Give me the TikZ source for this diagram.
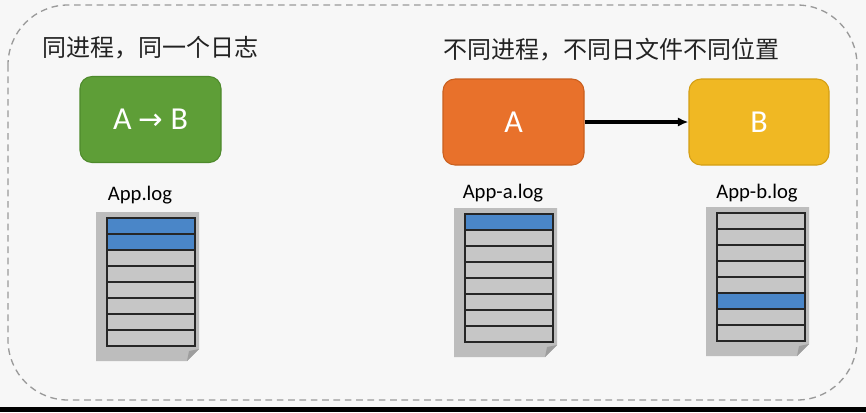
\documentclass[tikz,border=0pt]{standalone}
\usepackage{fontspec}
\setmainfont{Carlito}
\newfontfamily\cjk{Noto Sans CJK SC}
\newfontfamily\dvs{DejaVu Sans}
\usetikzlibrary{arrows.meta}
\definecolor{bg}{HTML}{F7F7F7}
\definecolor{dashgray}{HTML}{9A9A9A}
\definecolor{greenbox}{HTML}{5E9E37}
\definecolor{greenedge}{HTML}{4E8A2C}
\definecolor{orangebox}{HTML}{E8712B}
\definecolor{orangeedge}{HTML}{C9601F}
\definecolor{yellowbox}{HTML}{F0B823}
\definecolor{yellowedge}{HTML}{D49E14}
\definecolor{pagegray}{HTML}{BDBDBD}
\definecolor{folddark}{HTML}{9E9E9E}
\definecolor{rowgray}{HTML}{C6C6C6}
\definecolor{rowblue}{HTML}{4A86C8}
\definecolor{titletext}{HTML}{222222}
\tikzset{
  procbox/.style={rounded corners=9pt, minimum width=#1, minimum height=64.5pt, inner sep=0pt, text=white, font=\fontsize{24}{28}\selectfont, line width=0.8pt},
  titletxt/.style={anchor=west, inner sep=0pt, text=titletext, font=\cjk\fontsize{18}{22}\selectfont},
  loglabel/.style={inner sep=0pt, text=black, font=\fontsize{15.5}{18}\selectfont},
  rowline/.style={draw=black!85, line width=1.1pt},
  flowarrow/.style={draw=black, line width=2.6pt, -{Latex[length=8pt,width=7pt]}},
}
\newcommand{\logdoc}[3]{%
  \fill[pagegray] (#1-11,#2-6) -- (#1+92,#2-6) -- (#1+92,#2+131) -- (#1+80,#2+143) -- (#1-11,#2+143) -- cycle;
  \fill[folddark] (#1+92,#2+131) -- (#1+80,#2+143) -- (#1+82,#2+133) -- cycle;
  \foreach \i in {0,...,7} \fill[rowgray] (#1,#2+\i*16) rectangle ++(88,16);
  \foreach \i in {#3} \fill[rowblue] (#1,#2+\i*16) rectangle ++(88,16);
  \foreach \i in {0,...,7} \draw[rowline] (#1,#2+\i*16) rectangle ++(88,16);
}
\begin{document}
\begin{tikzpicture}[x=0.75pt,y=-0.75pt]
\useasboundingbox (0,0) rectangle (866,412);
\fill[bg] (0,0) rectangle (866,412);
\fill[black] (0,407) rectangle (866,412);
\draw[dashgray, line width=1pt, dash pattern=on 5pt off 3.5pt, rounded corners=45pt] (8,5) rectangle (857,400);

\node[titletxt] (t1) at (42,48) {同进程，同一个日志};
\node[titletxt] (t2) at (443,50) {不同进程，不同日文件不同位置};

\node[procbox=105.75pt, fill=greenbox, draw=greenedge] (ab) at (150.5,119.5) {A {\dvs\fontsize{22}{24}\selectfont →} B};
\node[procbox=105.75pt, fill=orangebox, draw=orangeedge] (a) at (513.5,122) {A};
\node[procbox=105pt, fill=yellowbox, draw=yellowedge] (b) at (759,122) {B};
\draw[flowarrow] (a.east) -- (b.west);

\node[loglabel] (l1) at (140,195) {App.log};
\node[loglabel] (l2) at (503,193) {App-a.log};
\node[loglabel] (l3) at (757,193) {App-b.log};

\logdoc{107}{218}{0,1}
\logdoc{465}{214}{0}
\logdoc{717}{213}{5}
\end{tikzpicture}
\end{document}
